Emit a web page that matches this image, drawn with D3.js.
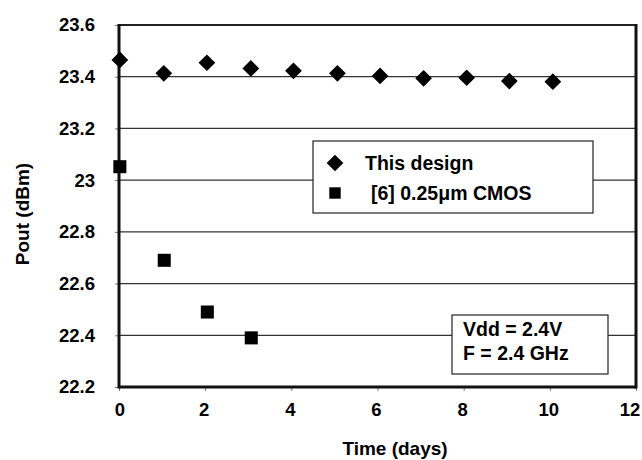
<!DOCTYPE html>
<html>
<head>
<meta charset="utf-8">
<script src="https://cdn.jsdelivr.net/npm/d3@7/dist/d3.min.js"></script>
<style>
  html, body { margin: 0; padding: 0; background: #fff; }
  svg { display: block; }
  text { font-family: "Liberation Sans", Arial, sans-serif; font-weight: bold; fill: #000; }
</style>
</head>
<body>
<div id="chart"></div>
<script>
// Data
const designDays = [0.02, 1.04, 2.04, 3.06, 4.05, 5.07, 6.06, 7.07, 8.07, 9.06, 10.07];
const designPout = [23.465, 23.413, 23.454, 23.432, 23.423, 23.413, 23.403, 23.394, 23.396, 23.383, 23.381];
const refDays = [0.02, 1.05, 2.05, 3.07];
const refPout = [23.052, 22.69, 22.49, 22.39];
const xTicks = [0, 2, 4, 6, 8, 10, 12];
const yTicks = [22.2, 22.4, 22.6, 22.8, 23, 23.2, 23.4, 23.6];
const legendLabels = ["This design", "[6] 0.25\u03bcm CMOS"];
const noteLines = ["Vdd = 2.4V", "F = 2.4 GHz"];
const xTitle = "Time (days)";
const yTitle = "Pout (dBm)";

const W = 642, H = 460;
const m = { left: 119, right: 6, top: 25, bottom: 73 };
const iw = W - m.left - m.right, ih = H - m.top - m.bottom;

const svg = d3.select("#chart").append("svg").attr("width", W).attr("height", H);
const x = d3.scaleLinear().domain([0, 12]).range([m.left, m.left + iw]);
const y = d3.scaleLinear().domain([22.2, 23.6]).range([m.top + ih, m.top]);

// gridlines
svg.append("g").selectAll("line").data(yTicks.filter(v => v > 22.2)).join("line")
  .attr("x1", x(0)).attr("x2", x(12))
  .attr("y1", d => y(d)).attr("y2", d => y(d))
  .attr("stroke", "#333").attr("stroke-width", 1.3);

// axes
const yAxis = d3.axisLeft(y).tickValues(yTicks).tickSize(4).tickPadding(20)
  .tickFormat(d => d3.format("~g")(d));
const gy = svg.append("g").attr("transform", `translate(${x(0)},0)`).call(yAxis);
gy.select(".domain").remove();
gy.selectAll(".tick line").attr("stroke", "#777").attr("stroke-width", 1);
gy.selectAll(".tick text").attr("font-size", 18.5).attr("fill", "#000")
  .attr("font-family", "Liberation Sans, Arial, sans-serif").attr("font-weight", "bold");

const xAxis = d3.axisBottom(x).tickValues(xTicks).tickSize(4).tickPadding(12);
const gx = svg.append("g").attr("transform", `translate(0,${y(22.2)})`).call(xAxis);
gx.select(".domain").remove();
gx.selectAll(".tick line").attr("stroke", "#777").attr("stroke-width", 1);
gx.selectAll(".tick text").attr("font-size", 18.5).attr("fill", "#000")
  .attr("font-family", "Liberation Sans, Arial, sans-serif").attr("font-weight", "bold")
  .attr("dx", d => d === 12 ? -6.5 : (d === 0 ? 0.5 : -1.5));

// frame
svg.append("line").attr("x1", x(0)).attr("x2", x(12)).attr("y1", y(23.6)).attr("y2", y(23.6))
  .attr("stroke", "#222").attr("stroke-width", 1.8);
svg.append("line").attr("x1", x(0)).attr("x2", x(12)).attr("y1", y(22.2)).attr("y2", y(22.2))
  .attr("stroke", "#111").attr("stroke-width", 3);
svg.append("line").attr("x1", x(0)).attr("x2", x(0)).attr("y1", y(23.6) - 1).attr("y2", y(22.2) + 1.5)
  .attr("stroke", "#111").attr("stroke-width", 3);
svg.append("line").attr("x1", x(12)).attr("x2", x(12)).attr("y1", y(23.6) - 1).attr("y2", y(22.2) + 1.5)
  .attr("stroke", "#111").attr("stroke-width", 3);

// legend box
const lg = svg.append("g");
lg.append("rect").attr("x", 313).attr("y", 141).attr("width", 280).attr("height", 72)
  .attr("fill", "#fff").attr("stroke", "#222").attr("stroke-width", 1.2);
const diamond = d3.symbol().type(d3.symbolSquare).size(140)();
const square = d3.symbol().type(d3.symbolSquare).size(170)();
lg.append("path").attr("d", diamond).attr("transform", "translate(335,163) rotate(45)").attr("fill", "#000");
lg.append("path").attr("d", d3.symbol().type(d3.symbolSquare).size(130)()).attr("transform", "translate(335,193)").attr("fill", "#000");
lg.append("text").attr("x", 365).attr("y", 163).attr("dy", "0.35em").attr("font-size", 19.5).text(legendLabels[0]);
lg.append("text").attr("x", 371).attr("y", 193).attr("dy", "0.35em").attr("font-size", 19.5).text(legendLabels[1]);

// note box
const ng = svg.append("g");
ng.append("rect").attr("x", 452).attr("y", 315).attr("width", 156).attr("height", 59)
  .attr("fill", "#fff").attr("stroke", "#222").attr("stroke-width", 1.2);
ng.selectAll("text").data(noteLines).join("text")
  .attr("x", 463).attr("y", (d, i) => 329 + i * 24).attr("dy", "0.35em")
  .attr("font-size", 19.5).text(d => d);

// points
svg.append("g").selectAll("path").data(designDays.map((d, i) => [d, designPout[i]])).join("path")
  .attr("d", diamond)
  .attr("transform", d => `translate(${x(d[0])},${y(d[1])}) rotate(45)`)
  .attr("fill", "#000");
svg.append("g").selectAll("path").data(refDays.map((d, i) => [d, refPout[i]])).join("path")
  .attr("d", square)
  .attr("transform", d => `translate(${x(d[0])},${y(d[1])})`)
  .attr("fill", "#000");

// titles
svg.append("text").attr("x", 395).attr("y", 448).attr("dy", "0.35em").attr("text-anchor", "middle")
  .attr("font-size", 19).text(xTitle);
svg.append("text").attr("transform", "translate(22,214) rotate(-90)").attr("dy", "0.35em")
  .attr("text-anchor", "middle").attr("font-size", 19).text(yTitle);
</script>
</body>
</html>
